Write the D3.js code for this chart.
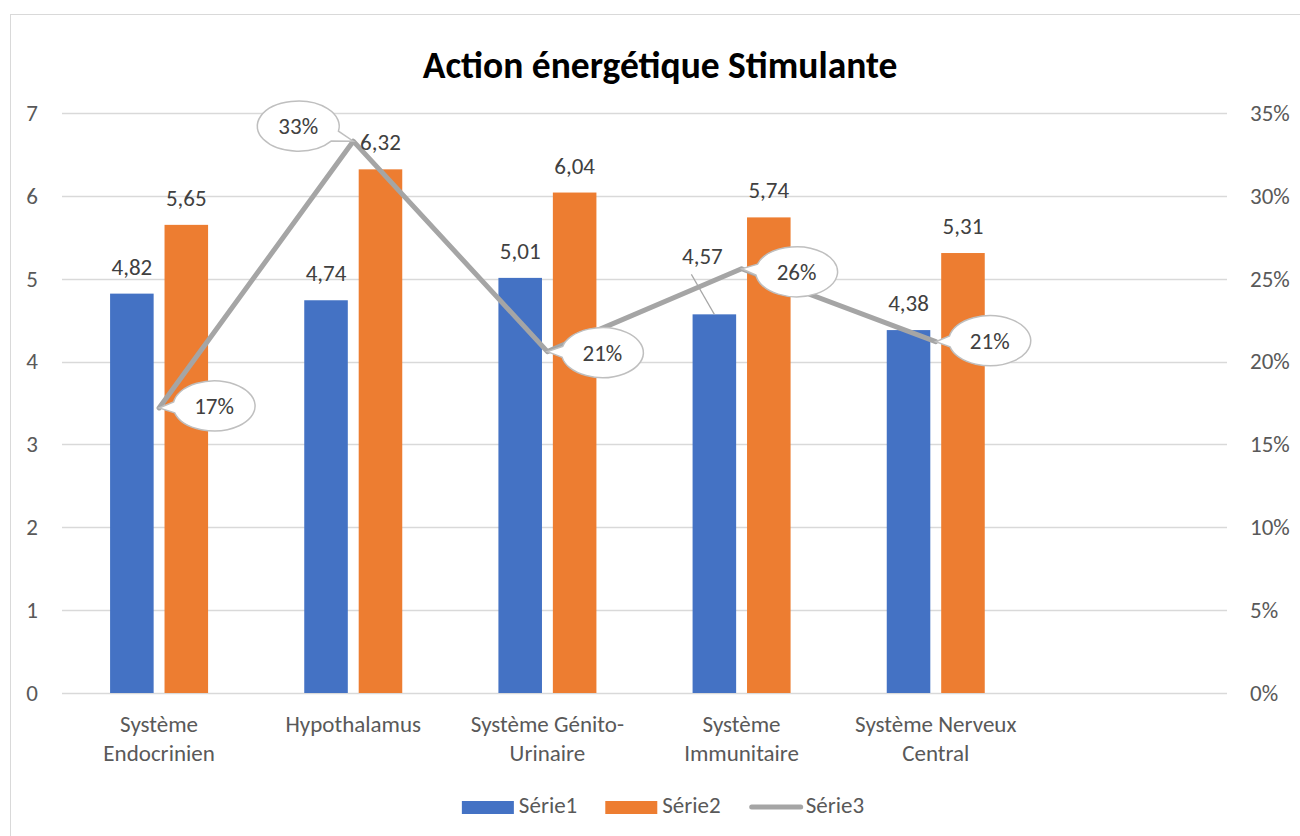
<!DOCTYPE html>
<html>
<head>
<meta charset="utf-8">
<script src="https://cdn.jsdelivr.net/npm/d3@7"></script>
<style>
  body { margin: 0; background: #fff; }
  svg { display: block; font-family: Carlito, Calibri, Lato, sans-serif; }
</style>
</head>
<body>
<svg id="chart" width="1300" height="836"></svg>
<script>
var categories = ["Système\nEndocrinien", "Hypothalamus", "Système Génito-\nUrinaire", "Système\nImmunitaire", "Système Nerveux\nCentral", ""];
var serie1 = [4.82, 4.74, 5.01, 4.57, 4.38];
var serie2 = [5.65, 6.32, 6.04, 5.74, 5.31];
var serie3 = [0.172, 0.333, 0.206, 0.256, 0.212];
var leftTicks = [0, 1, 2, 3, 4, 5, 6, 7];
var rightTicks = [0, 0.05, 0.10, 0.15, 0.20, 0.25, 0.30, 0.35];
var seriesNames = ["Série1", "Série2", "Série3"];

// where the callouts sit relative to their point, and the one moved bar label
var calloutOffsets = [[55, -2], [-55, -15], [55, 1], [55, 3], [54, -1]];
var labelShift1 = [null, null, null, [-12, -31], null];

var colors = ["#4472C4", "#ED7D31", "#A5A5A5"];
var fs = 23;

var svg = d3.select("#chart"),
    plotL = 62, plotR = 1227, plotT = 113, plotB = 693;

var fr = d3.formatLocale({decimal: ",", thousands: " ", grouping: [3], currency: ["", " €"]});
var fmtNum = fr.format(".2f"),
    fmtPct = d3.format(".0%");

var x = d3.scaleBand()
  .domain(d3.range(categories.length))
  .range([plotL, plotR]);

var groupW = 98;
var x1 = d3.scaleBand()
  .domain([0, 1])
  .range([(x.bandwidth() - groupW) / 2, (x.bandwidth() + groupW) / 2])
  .paddingInner(0.2);

var y = d3.scaleLinear().domain([0, 7]).range([plotB, plotT]);
var y2 = d3.scaleLinear().domain([0, 0.35]).range([plotB, plotT]);

// chart border
svg.append("rect")
  .attr("x", 10.5).attr("y", 14.5)
  .attr("width", 1310).attr("height", 840)
  .attr("fill", "none")
  .attr("stroke", "#D9D9D9");

svg.append("text")
  .attr("x", 660).attr("y", 78)
  .attr("text-anchor", "middle")
  .attr("font-weight", "bold")
  .attr("font-size", 37.5)
  .attr("fill", "#000")
  .text("Action énergétique Stimulante");

// gridlines
svg.append("g")
  .selectAll("line")
  .data(leftTicks)
  .join("line")
  .attr("x1", plotL).attr("x2", plotR)
  .attr("y1", function(d){ return Math.round(y(d)) + 0.5; })
  .attr("y2", function(d){ return Math.round(y(d)) + 0.5; })
  .attr("stroke", "#D9D9D9")
  .attr("stroke-width", 1.3);

// left axis
var yAxis = svg.append("g")
  .attr("transform", "translate(" + (plotL - 24) + ",0)")
  .call(d3.axisLeft(y).tickValues(leftTicks).tickSize(0).tickPadding(0).tickFormat(d3.format("d")));

// right axis
var y2Axis = svg.append("g")
  .attr("transform", "translate(" + (plotR + 23) + ",0)")
  .call(d3.axisRight(y2).tickValues(rightTicks).tickSize(0).tickPadding(0).tickFormat(fmtPct));

// category labels
var xAxis = svg.append("g")
  .attr("transform", "translate(0," + plotB + ")")
  .call(d3.axisBottom(x).tickSize(0).tickFormat(""));

xAxis.selectAll(".tick")
  .append("text")
  .attr("text-anchor", "middle")
  .each(function(d){
    var lines = categories[d].split("\n");
    d3.select(this).selectAll("tspan")
      .data(lines)
      .join("tspan")
      .attr("x", 0)
      .attr("y", function(l, i){ return 39 + i * 29; })
      .text(function(l){ return l; });
  });

[yAxis, y2Axis, xAxis].forEach(function(a){
  a.attr("font-family", null).attr("font-size", fs);
  a.select(".domain").remove();
  a.selectAll("text").attr("fill", "#595959");
});

// bars
var series = [serie1, serie2];
var barG = svg.append("g");
series.forEach(function(vals, s){
  barG.selectAll(".bar" + s)
    .data(vals)
    .join("rect")
    .attr("class", "bar" + s)
    .attr("x", function(d, i){ return x(i) + x1(s); })
    .attr("y", function(d){ return y(d); })
    .attr("width", x1.bandwidth())
    .attr("height", function(d){ return y(0) - y(d); })
    .attr("fill", colors[s]);
});

// line series
var pts = serie3.map(function(d, i){ return [x(i) + x.bandwidth() / 2, y2(d)]; });

svg.append("path")
  .attr("d", d3.line()(pts))
  .attr("fill", "none")
  .attr("stroke", colors[2])
  .attr("stroke-width", 5)
  .attr("stroke-linejoin", "round")
  .attr("stroke-linecap", "round");

// bar labels
series.forEach(function(vals, s){
  vals.forEach(function(d, i){
    var bx = x(i) + x1(s) + x1.bandwidth() / 2,
        by = y(d) - 19,
        shift = s === 0 ? labelShift1[i] : null;
    if (shift) {
      svg.append("line")
        .attr("x1", bx).attr("y1", y(d))
        .attr("x2", bx + shift[0] - 11).attr("y2", by + shift[1] + 10)
        .attr("stroke", "#A6A6A6")
        .attr("stroke-width", 1.2);
      bx += shift[0];
      by += shift[1];
    }
    svg.append("text")
      .attr("x", bx).attr("y", by)
      .attr("text-anchor", "middle")
      .attr("font-size", fs)
      .attr("fill", "#404040")
      .text(fmtNum(d));
  });
});

// callouts
function callout(px, py, cx, cy, rx, ry) {
  var th = Math.atan2((py - cy) / ry, (px - cx) / rx),
      d = 0.22;
  var a = [cx + rx * Math.cos(th + d), cy + ry * Math.sin(th + d)],
      b = [cx + rx * Math.cos(th - d), cy + ry * Math.sin(th - d)];
  return "M" + a[0] + "," + a[1] +
    "A" + rx + "," + ry + " 0 1 1 " + b[0] + "," + b[1] +
    "L" + px + "," + py + "Z";
}

pts.forEach(function(p, i){
  var cx = p[0] + calloutOffsets[i][0],
      cy = p[1] + calloutOffsets[i][1];
  svg.append("path")
    .attr("d", callout(p[0], p[1], cx, cy, 41, 25))
    .attr("fill", "#fff")
    .attr("stroke", "#BFBFBF")
    .attr("stroke-width", 1.5);
  svg.append("text")
    .attr("x", cx).attr("y", cy + 8)
    .attr("text-anchor", "middle")
    .attr("font-size", fs)
    .attr("fill", "#404040")
    .text(fmtPct(serie3[i]));
});

// legend
var legend = svg.append("g");
var lx = 0;
seriesNames.forEach(function(name, i){
  var g = legend.append("g").attr("transform", "translate(" + lx + ",0)");
  if (i < 2) {
    g.append("rect")
      .attr("x", 0).attr("y", -12)
      .attr("width", 52).attr("height", 13)
      .attr("fill", colors[i]);
  } else {
    g.append("line")
      .attr("x1", 3).attr("x2", 52)
      .attr("y1", -6).attr("y2", -6)
      .attr("stroke", colors[i])
      .attr("stroke-width", 5)
      .attr("stroke-linecap", "round");
  }
  var t = g.append("text")
    .attr("x", 57).attr("y", 0)
    .attr("font-size", fs)
    .attr("fill", "#595959")
    .text(name);
  lx += 57 + t.node().getComputedTextLength() + 28;
});
lx -= 28;
legend.attr("transform", "translate(" + (663 - lx / 2) + ",813)");
</script>
</body>
</html>
